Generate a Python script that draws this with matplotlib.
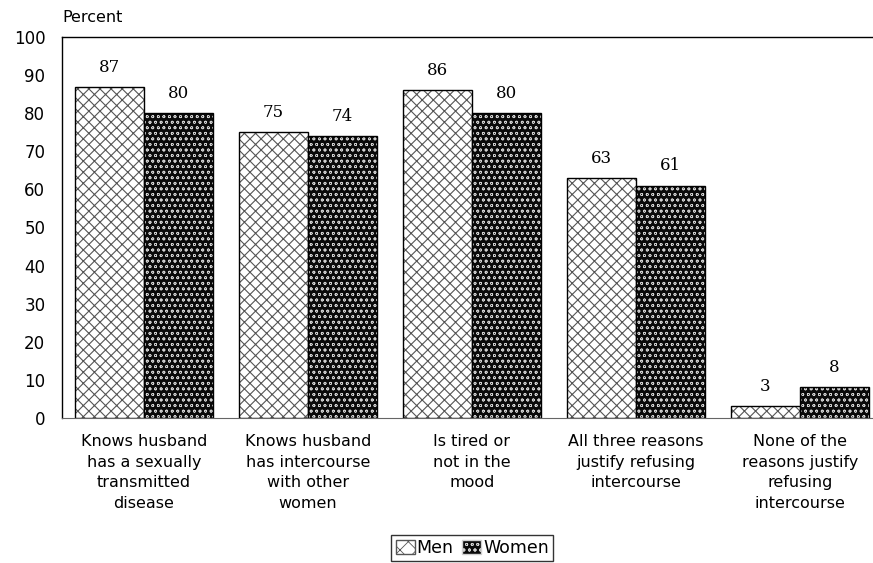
import numpy as np
import matplotlib
matplotlib.use('Agg')
import matplotlib.pyplot as plt
from matplotlib.patches import Patch

categories = ['Knows husband\nhas a sexually\ntransmitted\ndisease',
              'Knows husband\nhas intercourse\nwith other\nwomen',
              'Is tired or\nnot in the\nmood',
              'All three reasons\njustify refusing\nintercourse',
              'None of the\nreasons justify\nrefusing\nintercourse']
men = [87, 75, 86, 63, 3]
women = [80, 74, 80, 61, 8]
yticks = list(range(0, 101, 10))

fig = plt.figure(figsize=(8.73, 5.63), dpi=100)
# plot area runs past the right edge of the picture, as in the original
ax = fig.add_axes([0.071, 0.258, 0.939, 0.676])

x = np.arange(len(categories))
w = 0.42

# men: white with grey diamond cross-hatch
plt.rcParams['hatch.linewidth'] = 0.8
ax.bar(x - w/2, men, w, color='white', edgecolor='#555555', hatch='xxx', linewidth=0)
ax.bar(x - w/2, men, w, fill=False, edgecolor='black', linewidth=1)
# women: black with white speckle
plt.rcParams['hatch.linewidth'] = 0.5
ax.bar(x + w/2, women, w, color='#0a0a0a', edgecolor='#d0d0d0', hatch='ooo', linewidth=0)
ax.bar(x + w/2, women, w, fill=False, edgecolor='black', linewidth=1)

for i in range(len(x)):
    ax.annotate(str(men[i]), (x[i] - w/2, men[i]), xytext=(0, 8), textcoords='offset points',
                ha='center', va='bottom', fontsize=12, family='DejaVu Serif')
    ax.annotate(str(women[i]), (x[i] + w/2, women[i]), xytext=(0, 8), textcoords='offset points',
                ha='center', va='bottom', fontsize=12, family='DejaVu Serif')

ax.set_xlim(-0.5, len(x) - 0.5)
ax.set_ylim(0, 100)
ax.set_yticks(yticks)
ax.tick_params(axis='y', length=0, pad=12, labelsize=12)
ax.tick_params(axis='x', length=0, pad=12, labelsize=11.5)
ax.set_xticks(x)
ax.set_xticklabels(categories, linespacing=1.45, va='top')
ax.spines['right'].set_visible(False)
ax.spines['bottom'].set_color('#666666')
for s in ['left', 'top']:
    ax.spines[s].set_linewidth(1.0)

fig.text(0.071, 0.955, 'Percent', fontsize=11.5, ha='left', va='bottom')

plt.rcParams['hatch.linewidth'] = 0.6
handles = [Patch(facecolor='white', edgecolor='#555555', hatch='xx'),
           Patch(facecolor='#0a0a0a', edgecolor='#d0d0d0', hatch='ooo')]
leg = fig.legend(handles, ['Men', 'Women'], loc='lower center', bbox_to_anchor=(0.541, 0.0),
                 ncol=2, fontsize=12.5, frameon=True, fancybox=False, edgecolor='black',
                 handlelength=1.1, handleheight=0.9, handletextpad=0.1, columnspacing=0.5,
                 borderpad=0.25, borderaxespad=0.1)
leg.get_frame().set_linewidth(1.0)

fig.savefig('out.png', dpi=100)
